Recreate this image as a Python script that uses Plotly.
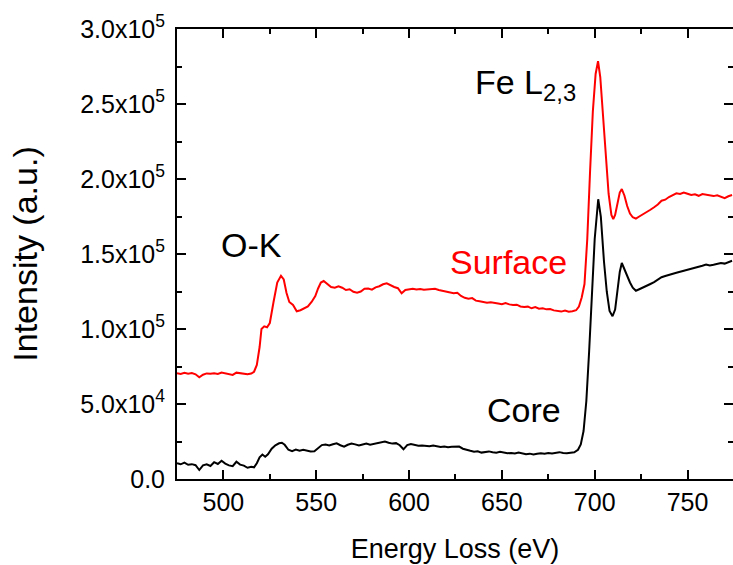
import plotly.graph_objects as go

# Energy axis (eV) and intensities (x1000 counts)
surface_e = [475, 477, 479, 481, 483, 485, 487, 489, 491, 493, 495, 497, 499, 501, 503, 505, 507, 509, 511, 513, 515,
             516.5, 518, 519.5, 520.5, 522, 523.5, 525, 527, 529, 531, 532.5, 534, 535.5, 537.5, 539.5, 541.5, 543.5,
             545.5, 547.5, 549.5, 551, 552.5, 554, 556, 558, 560, 562, 564, 566, 568, 570, 572, 574, 576, 578, 580,
             582, 584, 586, 588, 590, 592, 594, 596, 598, 600, 602, 604, 606, 608, 610, 612, 614, 616, 618, 620, 622,
             624, 626, 628, 630, 632, 634, 636, 638, 640, 642, 644, 646, 648, 650, 652, 654, 656, 658, 660, 662, 664,
             666, 668, 670, 672, 674, 676, 678, 680, 682, 684, 686, 688, 690, 691.5, 693, 694.5, 696, 697.5, 699,
             700.5, 701.8, 703, 704.5, 706, 707.5, 709, 710, 711, 712.3, 713.5, 714.6, 716, 717.5, 719, 720.5, 722.2,
             724, 726, 728, 730, 732, 734, 736, 738, 740, 742, 744, 746, 748, 750, 752, 754, 756, 758, 760, 762, 764,
             766, 768, 770, 772, 774]
surface_k = [70.5, 70.0, 70.8, 70.2, 70.6, 69.8, 67.8, 69.5, 70.4, 70.1, 70.5, 70.0, 71.0, 70.3, 70.1, 69.4, 70.9, 70.5,
             70.1, 69.9, 70.3, 71.5, 76, 88, 100, 101.8, 101.2, 104, 118, 131, 135.5, 133, 124, 118, 116, 111.8, 112.5,
             113.5, 115, 118, 122, 127, 131, 132, 130, 128, 127.5, 128.5, 127.5, 126, 126.5, 124.8, 124.2, 125, 126.8,
             127, 126.2, 127.8, 128.5, 129.8, 130.5, 129, 128, 127.2, 123.8, 126, 126.5, 126.8, 126.3, 126.7, 126.2,
             126.5, 127, 126.8, 126, 125.5, 125, 124.8, 123.8, 124.2, 122, 120.8, 120.2, 120.6, 118.9, 118.5, 118.2,
             117.5, 117.9, 117.2, 117, 116.5, 117.3, 116.4, 116, 116.2, 115, 114.6, 114.9, 113.8, 114.6, 113.5, 113.8,
             113.1, 113.3, 112.4, 112.2, 111.6, 112.3, 111.5, 111.8, 112.5, 115, 121, 130, 160, 205, 245, 270, 278.5,
             268, 242, 212, 190, 176, 173.2, 176, 184, 191, 193.3, 189, 182, 177, 174.5, 173.6, 175, 176.5, 177.5,
             179.5, 181.2, 183, 185.5, 186.2, 188, 189.2, 190.5, 190, 191, 190.2, 189.4, 189.8, 188.8, 190, 189.5,
             189.3, 188.6, 189.2, 188, 187.2, 188.5, 189.3]

core_e = [475, 477, 479, 481, 483, 485, 487, 489, 491, 493, 495, 497, 499, 501, 503, 505, 507, 509, 511, 513, 515,
          516.5, 518, 519.5, 521, 522.5, 524, 526, 528, 530, 531.5, 533, 535, 537, 539, 541, 543, 545, 547, 549, 551,
          553, 555, 557, 559, 561, 563, 565, 567, 569, 571, 573, 575, 577, 579, 581, 583, 585, 587, 589, 591, 593,
          595, 597, 599, 601, 603, 605, 607, 609, 611, 613, 615, 617, 619, 621, 623, 625, 627, 629, 631, 633, 635,
          637, 639, 641, 643, 645, 647, 649, 651, 653, 655, 657, 659, 661, 663, 665, 667, 669, 671, 673, 675, 677,
          679, 681, 683, 685, 687, 689, 691, 692.5, 694, 695.5, 697, 698.5, 700, 701.9, 703.3, 705, 706.5, 708,
          709.6, 711, 712.3, 713.5, 714.6, 716, 717.5, 719, 720.5, 722.2, 724, 726, 728, 730, 732, 734, 736, 738,
          740, 742, 744, 746, 748, 750, 752, 754, 756, 758, 760, 762, 764, 766, 768, 770, 772, 774]
core_k = [10.5, 9.8, 10.9, 9.5, 9.9, 9.2, 6.0, 9.1, 9.8, 8.7, 11.2, 10.0, 12.2, 10.3, 9.1, 8.5, 11.5, 9.6, 8.9, 7.5,
          8.2, 7.8, 10.5, 14.5, 16.3, 14.8, 16.5, 20.2, 22.5, 23.8, 24.2, 22.8, 19.5, 18.6, 19.6, 18.8, 19.5, 18.9,
          18.3, 18.5, 20.5, 22.6, 23.0, 22.3, 23.2, 23.8, 22.5, 21.5, 22.8, 23.6, 23.1, 22.3, 23.0, 23.6, 22.9, 23.3,
          23.9, 24.4, 25.0, 24.2, 23.6, 23.9, 22.5, 19.8, 22.6, 23.3, 22.6, 22.2, 22.4, 22.1, 21.8, 22.3, 21.6, 21.4,
          21.7, 21.2, 21.5, 21.3, 21.6, 20.2, 19.3, 18.8, 18.2, 18.5, 17.6, 18.0, 18.4, 17.8, 17.5, 18.1, 17.6, 17.2,
          17.4, 17.0, 17.7, 17.3, 16.5, 16.9, 16.3, 16.8, 17.2, 16.9, 17.4, 17.0, 17.6, 17.9, 17.3, 17.1, 17.5,
          17.8, 19.5, 23, 32, 52, 85, 120, 160, 186.5, 175, 145, 125, 112, 108.5, 113, 126, 138, 144, 140, 134.5,
          131, 127.5, 125.5, 126.5, 127.5, 128.8, 130, 131.2, 132.8, 134.5, 135.3, 136.2, 136.8, 137.5, 138.2,
          138.8, 139.5, 140.2, 141, 141.5, 142.2, 143, 142.3, 142.8, 143.5, 144, 143.6, 144.8, 145.5]

x_ticks = [500, 550, 600, 650, 700, 750]
y_ticks = [0, 50000, 100000, 150000, 200000, 250000, 300000]
y_ticktext = ["0.0", "5.0x10<sup>4</sup>", "1.0x10<sup>5</sup>", "1.5x10<sup>5</sup>",
              "2.0x10<sup>5</sup>", "2.5x10<sup>5</sup>", "3.0x10<sup>5</sup>"]

FONT = "Liberation Sans, Arial, sans-serif"

fig = go.Figure()
fig.add_trace(go.Scatter(x=surface_e, y=[v * 1000 for v in surface_k], mode="lines",
                         line=dict(color="#ff0000", width=2), name="Surface"))
fig.add_trace(go.Scatter(x=core_e, y=[v * 1000 for v in core_k], mode="lines",
                         line=dict(color="#000000", width=2), name="Core"))

axis_common = dict(showline=True, linewidth=2, linecolor="black", mirror="ticks",
                   ticks="inside", ticklen=9, tickwidth=1.5, tickcolor="black",
                   showgrid=False, zeroline=False, automargin=False,
                   tickfont=dict(family=FONT, size=25, color="black"))

fig.update_xaxes(range=[475, 774.5], tickvals=x_ticks,
                 minor=dict(ticks="inside", ticklen=5, dtick=25, tick0=475, tickwidth=1.5, tickcolor="black", showgrid=False),
                 title=dict(text="Energy Loss (eV)", font=dict(family=FONT, size=27, color="black"), standoff=24),
                 **axis_common)
fig.update_yaxes(range=[0, 300000], tickvals=y_ticks, ticktext=y_ticktext, ticklabelstandoff=5,
                 minor=dict(ticks="inside", ticklen=5, dtick=25000, tick0=0, tickwidth=1.5, tickcolor="black", showgrid=False),
                 title=dict(text="Intensity (a.u.)", font=dict(family=FONT, size=34, color="black"), standoff=32),
                 **axis_common)

ann_font = dict(family=FONT, size=34, color="black")
fig.add_annotation(x=515.3, y=156000, text="O-K", showarrow=False, font=ann_font)
fig.add_annotation(x=653.5, y=144700, text="Surface", showarrow=False,
                   font=dict(family=FONT, size=34, color="#ff0000"))
fig.add_annotation(x=634.5, y=262700, text="Fe L<sub>2,3</sub>", showarrow=False, xanchor="left", font=ann_font)
fig.add_annotation(x=662.1, y=46000, text="Core", showarrow=False, font=ann_font)

fig.update_layout(width=733, height=565, margin=dict(l=177, r=0, t=29, b=86),
                  plot_bgcolor="white", paper_bgcolor="white", showlegend=False)

# remove the default page margin so the figure fills the window exactly
fig.write_html("out.html", config={"displayModeBar": False},
               post_script="document.body.style.margin='0';document.body.style.overflow='hidden';")
